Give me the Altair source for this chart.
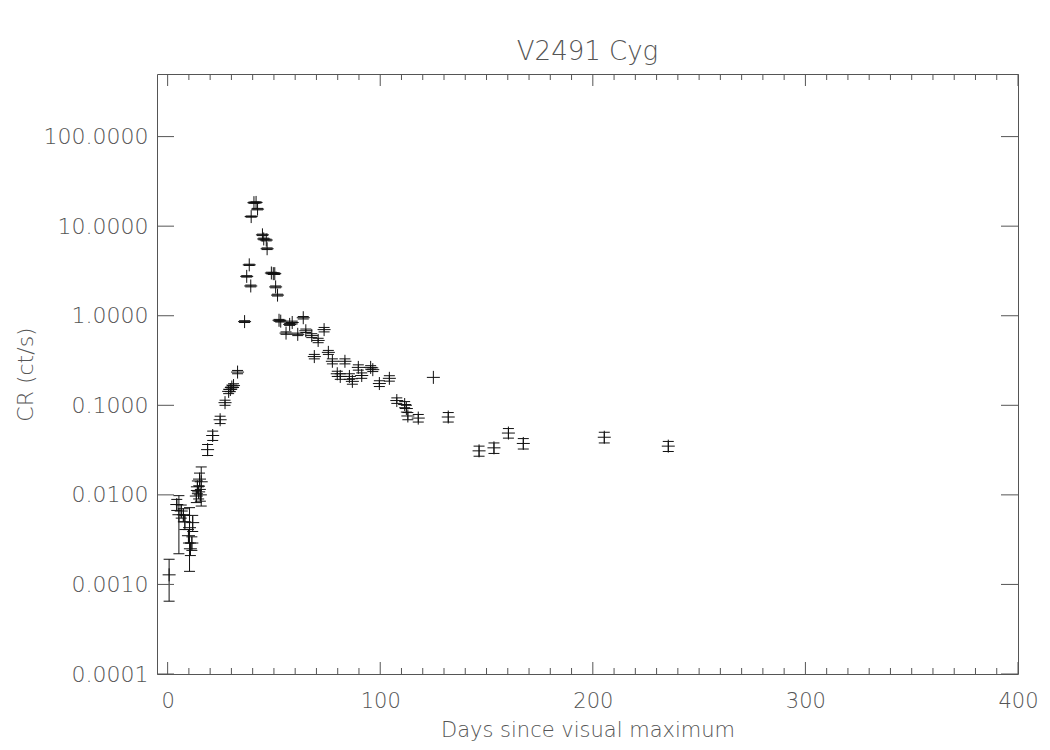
import altair as alt
import pandas as pd

# ---- data ----
days = [0.7, 4.3, 5.3, 6.4, 7.4, 8.1, 9.8, 10.3, 10.7, 11.4, 11.8,
        13.5, 14.0, 14.6, 15.0, 15.4, 15.8, 18.8, 21.2, 24.7, 27.0,
        28.7, 29.5, 30.2, 31.0, 32.9, 36.2, 37.2, 38.4, 39.1, 39.3,
        40.6, 41.6, 42.3, 44.6, 45.2, 46.4, 46.8, 48.8, 49.7, 50.4,
        50.8, 51.7, 52.4, 53.2, 55.7, 57.4, 58.6, 61.2, 63.8, 65.0,
        67.8, 69.0, 70.8, 73.6, 75.6, 77.5, 79.8, 81.2, 83.4, 85.5,
        86.9, 89.7, 91.3, 95.5, 96.5, 99.6, 104.3, 107.8, 111.5, 112.3,
        113.0, 117.9, 125.0, 132.0, 146.5, 153.5, 160.3, 167.3, 205.4, 235.5]
rates = [0.00128, 0.0078, 0.0060, 0.0066, 0.0060, 0.0050, 0.0035, 0.0043, 0.0025, 0.0029, 0.0049,
         0.0097, 0.0123, 0.0108, 0.0150, 0.0100, 0.0140, 0.0320, 0.0460, 0.0690, 0.107,
         0.143, 0.150, 0.160, 0.166, 0.235, 0.86, 2.75, 3.7, 2.15, 12.8,
         18.3, 18.4, 15.5, 8.0, 7.2, 7.0, 5.6, 3.0, 2.95, 2.95,
         2.1, 1.70, 0.89, 0.87, 0.64, 0.80, 0.84, 0.62, 0.95, 0.68,
         0.60, 0.35, 0.53, 0.70, 0.39, 0.31, 0.225, 0.210, 0.310, 0.210,
         0.185, 0.265, 0.215, 0.265, 0.250, 0.175, 0.200, 0.113, 0.102, 0.092,
         0.076, 0.072, 0.205, 0.074, 0.031, 0.0335, 0.049, 0.0375, 0.044, 0.035]
errors = [0.00063, 0.0011, 0.0038, 0.0011, 0.0010, 0.0009, 0.0006, 0.0029, 0.0004, 0.0005, 0.0010,
          0.0015, 0.0020, 0.0018, 0.0025, 0.0015, 0.0065, 0.0045, 0.0055, 0.0065, 0.007,
          0.008, 0.008, 0.008, 0.008, 0.010, 0.02, 0.05, 0.06, 0.05, 0.2,
          0.3, 0.3, 0.3, 0.15, 0.15, 0.15, 0.12, 0.06, 0.06, 0.06,
          0.05, 0.04, 0.02, 0.02, 0.02, 0.02, 0.03, 0.02, 0.03, 0.03,
          0.03, 0.02, 0.03, 0.04, 0.02, 0.02, 0.015, 0.015, 0.02, 0.015,
          0.013, 0.018, 0.015, 0.012, 0.012, 0.013, 0.014, 0.008, 0.008, 0.008,
          0.007, 0.007, 0.0, 0.009, 0.004, 0.0045, 0.006, 0.005, 0.006, 0.0045]

y_tick_values = [0.0001, 0.001, 0.01, 0.1, 1, 10, 100]
x_major_values = [0, 100, 200, 300, 400]
x_minor_values = [10, 20, 30, 40, 50, 60, 70, 80, 90,
                  110, 120, 130, 140, 150, 160, 170, 180, 190,
                  210, 220, 230, 240, 250, 260, 270, 280, 290,
                  310, 320, 330, 340, 350, 360, 370, 380, 390]

# ---- styling ----
W, H = 861, 600
FONT = "DejaVu Sans"
WEIGHT = 200
GRAY = "#555555"
INK = "#111111"

df = pd.DataFrame({"x": days, "y": rates, "err": errors})
df["lo"] = df["y"] - df["err"]
df["hi"] = df["y"] + df["err"]
err_df = df[df["err"] > 0]

xs = alt.Scale(domain=[-5, 400], nice=False, zero=False)
ys = alt.Scale(type="log", domain=[0.0001, 500], nice=False)

x_axis = alt.Axis(values=x_major_values, title="Days since visual maximum",
                  ticks=False, tickSize=0, domain=False, grid=False,
                  labelFont=FONT, labelFontSize=21, labelFontWeight=WEIGHT, labelColor=GRAY,
                  labelBaseline="alphabetic", labelPadding=33, labelFlush=False, labelOverlap=False,
                  titleFont=FONT, titleFontSize=21, titleFontWeight=WEIGHT, titleColor=GRAY,
                  titleX=W / 2, titleY=62, titleAlign="center", titleBaseline="alphabetic")
y_axis = alt.Axis(values=y_tick_values, format=".4f", title="CR (ct/s)",
                  ticks=False, tickSize=0, domain=False, grid=False,
                  labelFont=FONT, labelFontSize=22, labelFontWeight=WEIGHT, labelColor=GRAY,
                  labelPadding=9, labelFlush=False, labelOverlap=False, labelBaseline="middle",
                  titleFont=FONT, titleFontSize=22, titleFontWeight=WEIGHT, titleColor=GRAY,
                  titleAngle=270, titleX=-125, titleY=H / 2, titleAlign="center",
                  titleBaseline="alphabetic")

X = lambda f: alt.X(f, scale=xs, axis=x_axis)
Y = lambda f: alt.Y(f, scale=ys, axis=y_axis)

points = alt.Chart(df).mark_point(
    shape="M-1,0H1M0,-1V1", size=169, filled=False, stroke=INK, strokeWidth=1, opacity=1
).encode(x=X("x:Q"), y=Y("y:Q"))

bars = alt.Chart(err_df).mark_rule(color=INK, strokeWidth=1).encode(
    x=X("x:Q"), y=Y("lo:Q"), y2="hi:Q")

cap_lo = alt.Chart(err_df).mark_point(
    shape="M-1,0H1", size=121, filled=False, stroke=INK, strokeWidth=1, opacity=1
).encode(x=X("x:Q"), y=Y("lo:Q"))

cap_hi = alt.Chart(err_df).mark_point(
    shape="M-1,0H1", size=121, filled=False, stroke=INK, strokeWidth=1, opacity=1
).encode(x=X("x:Q"), y=Y("hi:Q"))

ydf = pd.DataFrame({"y": y_tick_values})
xmaj = pd.DataFrame({"x": x_major_values})
xmin = pd.DataFrame({"x": x_minor_values})

def yticks(x0, x1):
    return alt.Chart(ydf).mark_rule(color=GRAY, strokeWidth=1).encode(
        y=Y("y:Q"), x=alt.value(x0), x2=alt.value(x1))

def xticks(data, y0, y1):
    return alt.Chart(data).mark_rule(color=GRAY, strokeWidth=1).encode(
        x=X("x:Q"), y=alt.value(y0), y2=alt.value(y1))

chart = alt.layer(
    points, bars, cap_lo, cap_hi,
    yticks(0, 17), yticks(W - 17, W),
    xticks(xmaj, H, H - 12), xticks(xmaj, 0, 12),
    xticks(xmin, H, H - 6), xticks(xmin, 0, 6),
).properties(
    width=W, height=H,
    title=alt.TitleParams("V2491 Cyg", font=FONT, fontSize=26, fontWeight=WEIGHT, color=GRAY,
                          anchor="middle", baseline="alphabetic", offset=12, dy=24),
    autosize=alt.AutoSizeParams(type="none"),
    padding={"left": 157, "top": 74, "right": 32, "bottom": 76},
    background="white",
).configure_view(stroke=GRAY, strokeWidth=1)

chart.save("out.html", embed_options={"renderer": "svg", "actions": False})
